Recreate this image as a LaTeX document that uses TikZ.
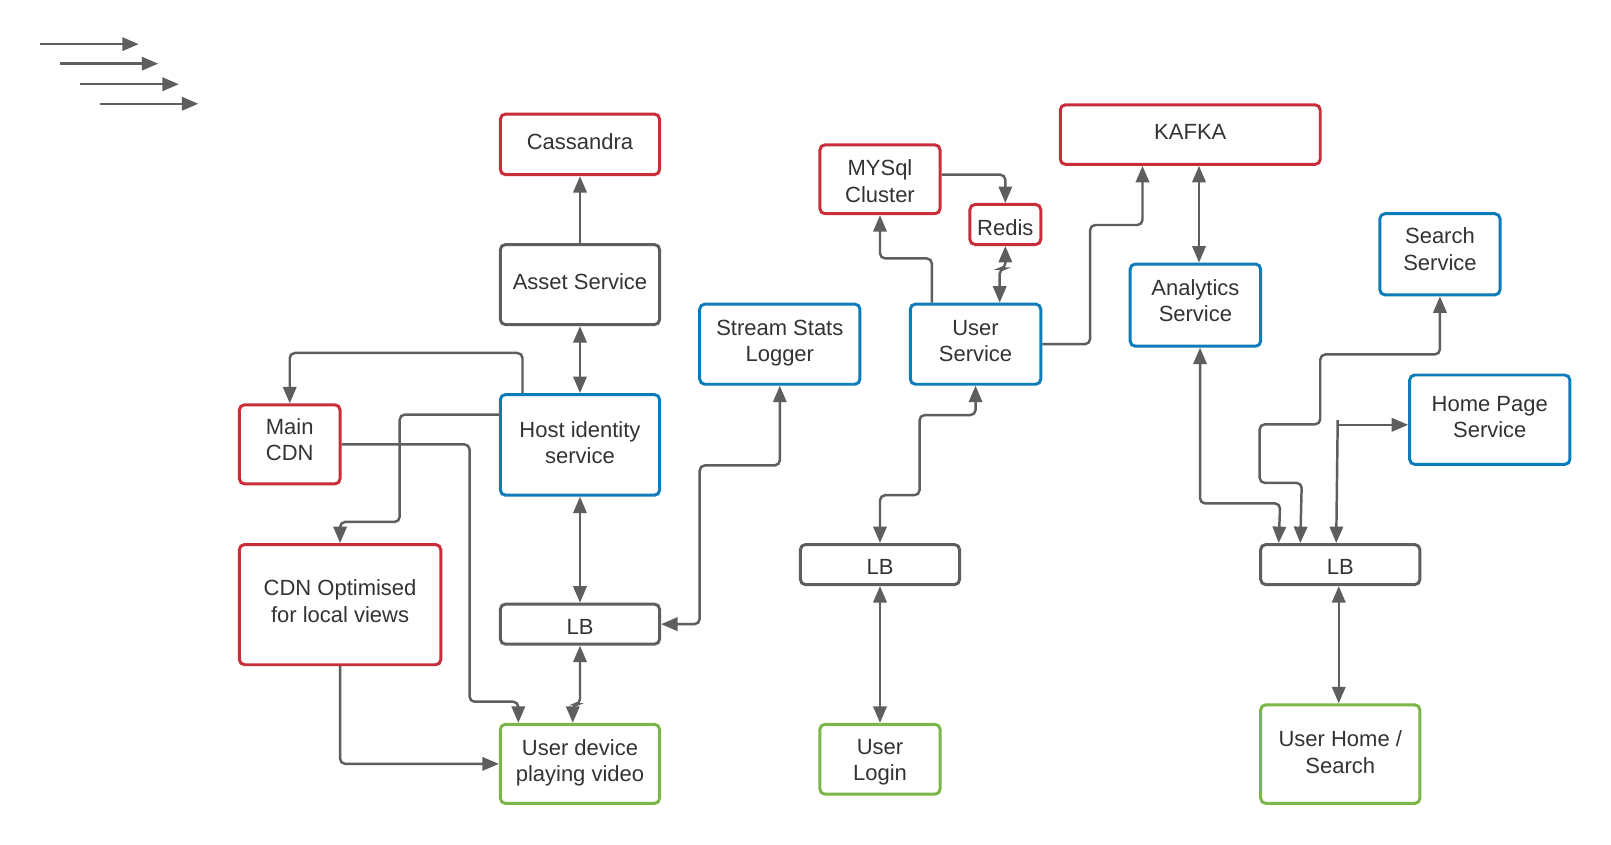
\documentclass[tikz,border=0pt]{standalone}
\usepackage{fontspec}
\setmainfont{Liberation Sans}
\usetikzlibrary{arrows.meta}
\definecolor{cred}{HTML}{C92D39}
\definecolor{cblue}{HTML}{0C7CBA}
\definecolor{cgreen}{HTML}{7AB648}
\definecolor{cgray}{HTML}{5E5E5E}
\definecolor{ctext}{HTML}{333333}
\newcommand\tx[2][0pt]{\raisebox{#1}[\height][\depth]{\begin{tabular}{@{}c@{}}#2\end{tabular}}}
\begin{document}
\begin{tikzpicture}[x=0.5pt,y=-0.5pt,
  box/.style={draw, line width=1.45pt, rounded corners=2.5pt, fill=white, align=center, inner sep=0pt, text=ctext, font=\fontsize{10.7}{12.7}\selectfont},
  redbox/.style={box, draw=cred},
  bluebox/.style={box, draw=cblue},
  greenbox/.style={box, draw=cgreen},
  graybox/.style={box, draw=cgray},
  conn/.style={draw=cgray, line width=1.2pt, rounded corners=2.5pt},
  arr/.style={conn, -{Triangle[length=8pt,width=6.5pt]}},
  darr/.style={conn, {Triangle[length=8pt,width=6.5pt]}-{Triangle[length=8pt,width=6.5pt]}},
]
\useasboundingbox[fill=white] (0,0) rectangle (1568,822);

% nodes
\node[redbox, minimum width=77.5pt, minimum height=29.5pt] (cass) at (564.5,140.5) {\tx{Cassandra}};
\node[graybox, minimum width=77.5pt, minimum height=39pt] (asset) at (564.5,277) {\tx[0.3pt]{Asset Service}};
\node[bluebox, minimum width=77.5pt, minimum height=49pt] (host) at (564.5,433) {\tx{Host identity\\service}};
\node[redbox, minimum width=49pt, minimum height=38.5pt] (maincdn) at (282,432.5) {\tx[0.8pt]{Main\\CDN}};
\node[redbox, minimum width=98pt, minimum height=58.5pt] (cdnopt) at (331,588.5) {\tx[0.4pt]{CDN Optimised\\for local views}};
\node[graybox, minimum width=77.5pt, minimum height=19.5pt] (lbone) at (564.5,607.5) {\tx[-2.4pt]{LB}};
\node[greenbox, minimum width=77.5pt, minimum height=38.5pt] (device) at (564.5,743.5) {\tx[0.4pt]{User device\\playing video}};
\node[bluebox, minimum width=78pt, minimum height=39pt] (stream) at (759,335) {\tx[0.6pt]{Stream Stats\\Logger}};
\node[redbox, minimum width=58.5pt, minimum height=33.5pt] (mysql) at (856.5,174.5) {\tx[-2.2pt]{MYSql\\Cluster}};
\node[redbox, minimum width=34.5pt, minimum height=19.5pt] (redis) at (978.5,218.5) {\tx[-2.7pt]{Redis}};
\node[bluebox, minimum width=63.5pt, minimum height=39pt] (usersvc) at (949.5,335) {\tx[0.6pt]{User\\Service}};
\node[redbox, minimum width=126.5pt, minimum height=29pt] (kafka) at (1158.5,131) {\tx[0.2pt]{KAFKA}};
\node[bluebox, minimum width=63.5pt, minimum height=40pt] (analytics) at (1163.5,297) {\tx[1pt]{Analytics\\Service}};
\node[bluebox, minimum width=58.5pt, minimum height=39.5pt] (search) at (1401.5,247.5) {\tx[1.2pt]{Search\\Service}};
\node[bluebox, minimum width=78pt, minimum height=43.5pt] (homepage) at (1450,408.5) {\tx[0.4pt]{Home Page\\Service}};
\node[graybox, minimum width=77.5pt, minimum height=19.5pt] (lbtwo) at (856.5,549.5) {\tx[-2.5pt]{LB}};
\node[greenbox, minimum width=58.5pt, minimum height=34pt] (login) at (856.5,739) {\tx[-1.5pt]{User\\Login}};
\node[graybox, minimum width=77.5pt, minimum height=19.5pt] (lbthree) at (1304.5,549.5) {\tx[-2.3pt]{LB}};
\node[greenbox, minimum width=77.5pt, minimum height=48pt] (home) at (1304.5,734) {\tx[-0.3pt]{User Home /\\Search}};

% free arrows (top left)
\coordinate (a1s) at (39,43);  \coordinate (a1e) at (135,43);
\coordinate (a2s) at (58,62);  \coordinate (a2e) at (154,62);
\coordinate (a3s) at (78,82);  \coordinate (a3e) at (174,82);
\coordinate (a4s) at (97,101); \coordinate (a4e) at (193,101);
\draw[arr] (a1s) -- (a1e);
\draw[arr] (a2s) -- (a2e);
\draw[arr] (a3s) -- (a3e);
\draw[arr] (a4s) -- (a4e);

% left cluster
\draw[arr] (asset) -- (cass);
\draw[darr] (host) -- (asset);
\draw[darr] (host) -- (lbone);
\draw[darr] (lbone.south) -- ++(0,57) -| ([xshift=-3.5pt]device.north);
\draw[arr] ([xshift=11.5pt]host.north west) -- ++(0,-39) -| (maincdn.north);
\draw[arr] ([yshift=-10.5pt]host.north west) -| (389,508) -| (cdnopt.north);
\draw[arr] (maincdn.east) -| (457,683) -| ([xshift=-30pt]device.north);
\draw[arr] (cdnopt.south) |- (device.west);
\draw[darr] (lbone.east) -| (681,453) -| (stream.south);

% middle cluster
\draw[arr] ([xshift=-21.25pt]usersvc.north) -- ++(0,-43) -| (mysql.south);
\draw[arr] ([yshift=2.25pt]mysql.east) -| (redis.north);
\draw[darr] (redis.south) -- ++(0,22) -| ([xshift=11.75pt]usersvc.north);
\draw[arr] (usersvc.east) -| (1061,219) -| ([xshift=-23.25pt]kafka.south);
\draw[darr] ([xshift=1.75pt]analytics.north) -- ([xshift=4.25pt]kafka.south);
\draw[darr] (lbtwo.north) |- (895,482) -- (895,404) -| (usersvc.south);
\draw[darr] (lbtwo) -- (login);

% right cluster
\draw[darr] ([xshift=2.25pt]analytics.south) |- (1246,490) -- ([xshift=9.5pt]lbthree.north west);
\draw[darr] (search.south) |- (1285,345) |- (1226,413) |- (1267,470) -- ([xshift=20pt]lbthree.north west);
\coordinate (hptop) at (1302,409);
\coordinate (hpmid) at (1302,413.5);
\draw[arr] (hptop) -- ([xshift=37.5pt]lbthree.north west);
\draw[arr] (hpmid) -- ([yshift=-2.5pt]homepage.west);
\draw[darr] ([xshift=-0.75pt]lbthree.south) -- ([xshift=-0.75pt]home.north);
\end{tikzpicture}
\end{document}
